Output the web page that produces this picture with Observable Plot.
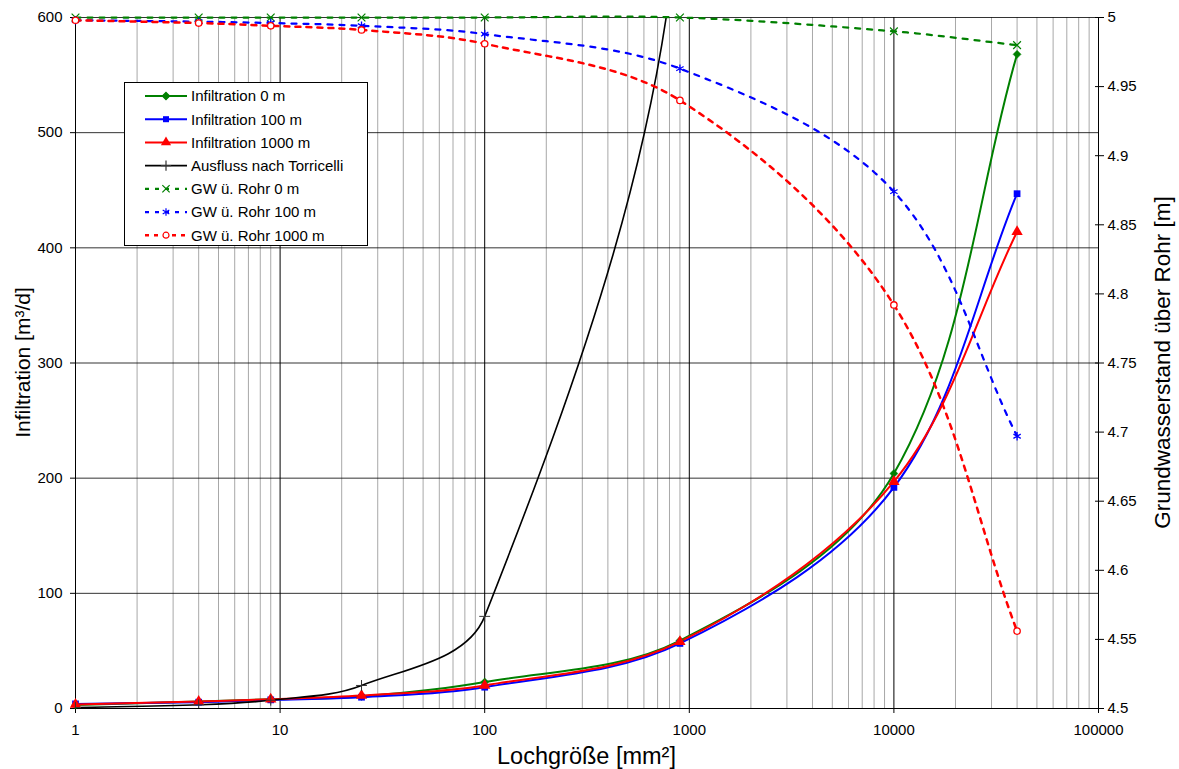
<!DOCTYPE html>
<html>
<head>
<meta charset="utf-8">
<script src="https://cdn.jsdelivr.net/npm/d3@7"></script>
<script src="https://cdn.jsdelivr.net/npm/@observablehq/plot@0.6"></script>
<style>
  html, body { margin: 0; padding: 0; background: #fff; }
  svg { font-family: "Liberation Sans", Arial, sans-serif; }
</style>
</head>
<body>
<div id="chart"></div>
<script>
// ---------- data ----------
const holeSize = [1, 4, 9, 25, 100, 900, 10000, 40000];           // Lochgröße [mm²]
const infiltration0    = [3.0, 6.0, 8.0, 10.5, 23.0, 59.0, 204, 568]; // m³/d
const infiltration100  = [4.0, 5.5, 7.5, 9.8, 18.5, 56.5, 192, 447];
const infiltration1000 = [3.5, 6.0, 8.0, 11.3, 20.0, 58.0, 197, 414];
const torricelli       = [0.8, 3.2, 7.2, 20.0, 80.0, 720, 8000, 32000]; // above 600 lies outside the chart
const gw0    = [5.000, 5.000, 5.000, 5.000, 5.000, 5.000, 4.990, 4.980]; // m (right axis)
const gw100  = [4.998, 4.997, 4.996, 4.994, 4.988, 4.963, 4.874, 4.697];
const gw1000 = [4.998, 4.996, 4.994, 4.991, 4.981, 4.940, 4.792, 4.556];

const seriesNames = ["Infiltration 0 m", "Infiltration 100 m", "Infiltration 1000 m",
  "Ausfluss nach Torricelli", "GW ü. Rohr 0 m", "GW ü. Rohr 100 m", "GW ü. Rohr 1000 m"];

const xTicks = [1, 10, 100, 1000, 10000, 100000];
const xTickLabels = ["1", "10", "100", "1000", "10000", "100000"];
const yTicks = [0, 100, 200, 300, 400, 500, 600];
const gwTicks = [4.5, 4.55, 4.6, 4.65, 4.7, 4.75, 4.8, 4.85, 4.9, 4.95, 5];
const gwTickLabels = ["4.5", "4.55", "4.6", "4.65", "4.7", "4.75", "4.8", "4.85", "4.9", "4.95", "5"];

// right axis (4.5 … 5 m) shares the frame with the left axis (0 … 600 m³/d)
const gwMin = 4.5, gwMax = 5, yMax = 600;
const gwToY = v => (v - gwMin) / (gwMax - gwMin) * yMax;

const minorX = [];
for (const d of [1, 10, 100, 1000, 10000]) for (let m = 2; m <= 9; m++) minorX.push(d * m);
const majorX = [10, 100, 1000, 10000];

const rows = (ys, f = v => v) => holeSize.map((x, i) => ({x, y: f(ys[i])}));
const dInf0 = rows(infiltration0), dInf100 = rows(infiltration100), dInf1000 = rows(infiltration1000);
const dTor = rows(torricelli);
const dGw0 = rows(gw0, gwToY), dGw100 = rows(gw100, gwToY), dGw1000 = rows(gw1000, gwToY);

// Excel-like smoothed line (Bezier, tangent from neighbours, length ~ segment/3)
function ExcelSmooth(context) { this._context = context; }
ExcelSmooth.prototype = {
  areaStart() {}, areaEnd() {},
  lineStart() { this._pts = []; },
  point(x, y) { this._pts.push([+x, +y]); },
  lineEnd() {
    const p = this._pts, c = this._context, n = p.length;
    if (!n) return;
    const unit = (dx, dy) => { const l = Math.hypot(dx, dy) || 1; return [dx / l, dy / l]; };
    c.moveTo(p[0][0], p[0][1]);
    for (let i = 0; i < n - 1; i++) {
      const p0 = p[Math.max(i - 1, 0)], p1 = p[i], p2 = p[i + 1], p3 = p[Math.min(i + 2, n - 1)];
      const k = Math.hypot(p2[0] - p1[0], p2[1] - p1[1]) / 3;
      const a = unit(p2[0] - p0[0], p2[1] - p0[1]);
      const b = unit(p3[0] - p1[0], p3[1] - p1[1]);
      c.bezierCurveTo(p1[0] + a[0] * k, p1[1] + a[1] * k, p2[0] - b[0] * k, p2[1] - b[1] * k, p2[0], p2[1]);
    }
  }
};
const excelCurve = context => new ExcelSmooth(context);

const GREEN = "#008000", BLUE = "#0000ff", RED = "#ff0000", BLACK = "#000000";

const chart = Plot.plot({
  width: 1179, height: 769,
  marginLeft: 75, marginRight: 81, marginTop: 17, marginBottom: 61,
  style: {fontFamily: '"Liberation Sans", Arial, sans-serif', fontSize: "15px", color: "#000", background: "#fff", overflow: "visible"},
  x: {type: "log", domain: [1, 100000]},
  y: {domain: [0, 600]},
  marks: [
    Plot.ruleX(minorX, {stroke: "#a8a8a8", strokeWidth: 1}),
    Plot.ruleX(majorX, {stroke: "#000", strokeWidth: 1}),
    Plot.ruleY(yTicks.slice(1), {stroke: "#000", strokeWidth: 1, strokeOpacity: 0.8}),
    Plot.ruleX([1, 100000], {stroke: "#000", strokeWidth: 1}),
    Plot.ruleY([0], {stroke: "#000", strokeWidth: 1}),
    Plot.axisX({ticks: xTicks, tickFormat: d => xTickLabels[xTicks.indexOf(d)], tickSize: 5, tickPadding: 11, label: null, fontSize: 15}),
    Plot.axisY({ticks: yTicks, tickSize: 5, tickPadding: 8, label: null, fontSize: 15}),
    Plot.axisY({anchor: "right", ticks: gwTicks.map(gwToY), tickFormat: d => gwTickLabels[Math.round(d / 60)],
      tickSize: 9, dx: -4, tickPadding: 4, label: null, fontSize: 15}),

    Plot.line(dInf0, {x: "x", y: "y", stroke: GREEN, strokeWidth: 2, curve: excelCurve}),
    Plot.line(dInf100, {x: "x", y: "y", stroke: BLUE, strokeWidth: 2, curve: excelCurve}),
    Plot.line(dInf1000, {x: "x", y: "y", stroke: RED, strokeWidth: 2, curve: excelCurve}),
    Plot.line(dTor, {x: "x", y: "y", stroke: BLACK, strokeWidth: 1.6, curve: excelCurve, clip: true}),
    Plot.line(dGw0, {x: "x", y: "y", stroke: GREEN, strokeWidth: 2.25, strokeDasharray: "5,7", curve: excelCurve}),
    Plot.line(dGw100, {x: "x", y: "y", stroke: BLUE, strokeWidth: 2.25, strokeDasharray: "5,7", curve: excelCurve}),
    Plot.line(dGw1000, {x: "x", y: "y", stroke: RED, strokeWidth: 2.5, strokeDasharray: "5,6", curve: excelCurve}),

    Plot.dot(dInf0, {x: "x", y: "y", symbol: "diamond2", r: 3.6, fill: GREEN, stroke: GREEN, strokeWidth: 0.5}),
    Plot.dot(dInf100, {x: "x", y: "y", symbol: "square", r: 3.8, fill: BLUE, stroke: "none"}),
    Plot.dot(dInf1000, {x: "x", y: "y", symbol: "triangle", r: 4.2, fill: RED, stroke: "none"}),
    Plot.dot(dTor, {x: "x", y: "y", symbol: "plus", r: 3.6, stroke: "#333", strokeWidth: 1, clip: true}),
    Plot.dot(dGw0, {x: "x", y: "y", symbol: "times", r: 3.6, stroke: GREEN, strokeWidth: 1.2}),
    Plot.dot(dGw100, {x: "x", y: "y", symbol: "asterisk", r: 4, stroke: BLUE, strokeWidth: 1.3}),
    Plot.dot(dGw1000, {x: "x", y: "y", symbol: "circle", r: 3.2, stroke: RED, fill: "#fff", strokeWidth: 1.3})
  ]
});

document.getElementById("chart").append(chart);

// ---------- titles & legend ----------
const svg = d3.select(chart);
const fontFam = '"Liberation Sans", Arial, sans-serif';
svg.append("text").attr("x", 586.5).attr("y", 764).attr("text-anchor", "middle")
  .attr("font-size", 23.5).attr("font-family", fontFam).attr("fill", "#000").text("Lochgröße [mm²]");
svg.append("text").attr("transform", "translate(30,362.5) rotate(-90)").attr("text-anchor", "middle")
  .attr("font-size", 21).attr("font-family", fontFam).attr("fill", "#000").text("Infiltration [m³/d]");
svg.append("text").attr("transform", "translate(1170,362.5) rotate(-90)").attr("text-anchor", "middle")
  .attr("font-size", 22.5).attr("font-family", fontFam).attr("fill", "#000").text("Grundwasserstand über Rohr [m]");

const legendStyle = [
  {color: GREEN, width: 2, dash: null, sym: d3.symbolDiamond2, r: 3.3, fill: GREEN, stroke: GREEN},
  {color: BLUE, width: 2, dash: null, sym: d3.symbolSquare, r: 3.4, fill: BLUE, stroke: "none"},
  {color: RED, width: 2, dash: null, sym: d3.symbolTriangle, r: 3.8, fill: RED, stroke: "none"},
  {color: BLACK, width: 1.6, dash: null, sym: d3.symbolPlus, r: 3.4, fill: "none", stroke: "#333"},
  {color: GREEN, width: 2.25, dash: "4,6", sym: d3.symbolTimes, r: 3.4, fill: "none", stroke: GREEN},
  {color: BLUE, width: 2.25, dash: "4,6", sym: d3.symbolAsterisk, r: 3.6, fill: "none", stroke: BLUE},
  {color: RED, width: 2.5, dash: "4,5", sym: d3.symbolCircle, r: 3, fill: "#fff", stroke: RED}
];
const lg = svg.append("g").attr("text-anchor", "start");
lg.append("rect").attr("x", 124.5).attr("y", 82.5).attr("width", 243).attr("height", 163)
  .attr("fill", "#fff").attr("stroke", "#000").attr("stroke-width", 1);
seriesNames.forEach((name, i) => {
  const s = legendStyle[i], y = 96 + i * 23.2;
  lg.append("line").attr("x1", 145).attr("x2", 187).attr("y1", y).attr("y2", y)
    .attr("stroke", s.color).attr("stroke-width", s.width).attr("stroke-dasharray", s.dash);
  lg.append("path").attr("transform", `translate(166,${y})`)
    .attr("d", d3.symbol(s.sym, Math.PI * s.r * s.r)())
    .attr("fill", s.fill).attr("stroke", s.stroke).attr("stroke-width", 1.2);
  lg.append("text").attr("x", 191).attr("y", y).attr("dy", "0.36em").attr("text-anchor", "start")
    .attr("font-size", 15).attr("font-family", fontFam).attr("fill", "#000").text(name);
});
</script>
</body>
</html>
